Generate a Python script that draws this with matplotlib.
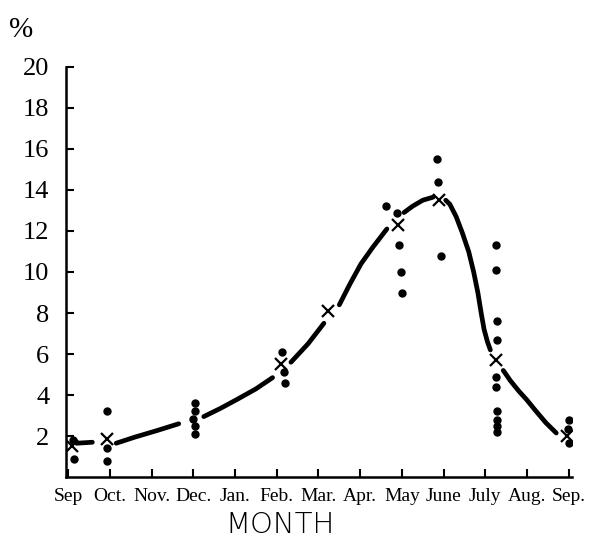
import numpy as np
import matplotlib.pyplot as plt

nan = np.nan

# month index: 0 = Sep ... 12 = Sep (next year)
month_labels = ["Sep", "Oct.", "Nov.", "Dec.", "Jan.", "Feb.", "Mar.",
                "Apr.", "May", "June", "July", "Aug.", "Sep."]
y_ticks = [2, 4, 6, 8, 10, 12, 14, 16, 18, 20]

# monthly means (crosses)
mean_x = [0.1, 0.94, 5.1, 6.23, 7.9, 8.9, 10.26, 11.95]
mean_y = [1.5, 1.86, 5.5, 8.1, 12.3, 13.5, 5.7, 2.0]

# individual observations (dots)
dot_x = [0.12, 0.14,
         0.94, 0.94, 0.94,
         3.03, 3.03, 3.0, 3.03, 3.03,
         5.12, 5.17, 5.2,
         7.62, 7.88, 7.93, 7.98, 8.0,
         8.85, 8.87, 8.94,
         10.26, 10.26, 10.28, 10.28, 10.26, 10.26, 10.28, 10.28, 10.28, 10.28,
         12.0, 11.98, 12.0]
dot_y = [1.8, 0.9,
         3.2, 1.4, 0.8,
         3.6, 3.2, 2.85, 2.5, 2.1,
         6.1, 5.1, 4.6,
         13.2, 12.9, 11.3, 10.0, 9.0,
         15.5, 14.4, 10.8,
         11.3, 10.1, 7.6, 6.7, 4.9, 4.4, 3.2, 2.8, 2.5, 2.2,
         2.8, 2.35, 1.65]

# hand drawn smoothing curve, broken (nan) where the pen was lifted
curve_x = [0.2, 0.58, nan,
           1.15, 1.6, 2.1, 2.65, nan,
           3.25, 3.65, 4.06, 4.5, 4.9, nan,
           5.34, 5.75, 6.13, nan,
           6.5, 6.75, 7.02, 7.3, 7.64, nan,
           8.05, 8.25, 8.5, 8.75, nan,
           9.05, 9.15, 9.3, 9.45, 9.6, 9.72, 9.82, 9.9, 9.97, 10.05, 10.12, nan,
           10.43, 10.6, 10.8, 11.0, 11.2, 11.45, 11.7]
curve_y = [1.65, 1.7, nan,
           1.65, 1.95, 2.25, 2.6, nan,
           2.95, 3.35, 3.8, 4.3, 4.85, nan,
           5.6, 6.5, 7.5, nan,
           8.4, 9.4, 10.4, 11.2, 12.1, nan,
           12.9, 13.2, 13.5, 13.65, nan,
           13.5, 13.3, 12.7, 11.9, 11.0, 10.0, 9.0, 8.0, 7.2, 6.6, 6.2, nan,
           5.2, 4.7, 4.2, 3.75, 3.25, 2.65, 2.15]

fig = plt.figure(figsize=(5.9, 5.44), dpi=100)
ax = fig.add_axes([0.112, 0.123, 0.857, 0.754])

ax.plot(curve_x, curve_y, color='black', lw=3.4, solid_capstyle='round',
        solid_joinstyle='round')
ax.plot(dot_x, dot_y, 'o', color='black', ms=5, ls='none')
ax.plot(mean_x, mean_y, 'x', color='black', ms=8, mew=1.6, ls='none')

ax.set_xlim(-0.05, 12.07)
ax.set_ylim(0, 20)
ax.spines['top'].set_visible(False)
ax.spines['right'].set_visible(False)
ax.spines['left'].set_linewidth(1.8)
ax.spines['bottom'].set_linewidth(1.8)

ax.set_xticks(range(len(month_labels)))
ax.set_xticklabels(month_labels, fontsize=14, family='Liberation Serif')
ax.set_yticks(y_ticks)
ax.set_yticklabels([str(v) for v in y_ticks], fontsize=19, family='Liberation Serif')
ax.tick_params(axis='both', direction='in', length=6, width=1.5, pad=8)
ax.tick_params(axis='y', pad=12)

fig.text(0.475, 0.035, "MONTH", fontsize=21, family='DejaVu Sans',
         fontweight='light', ha='center', va='center')
fig.text(0.035, 0.945, "%", fontsize=21, family='Liberation Serif',
         ha='center', va='center')

fig.savefig('out.png', dpi=100)
